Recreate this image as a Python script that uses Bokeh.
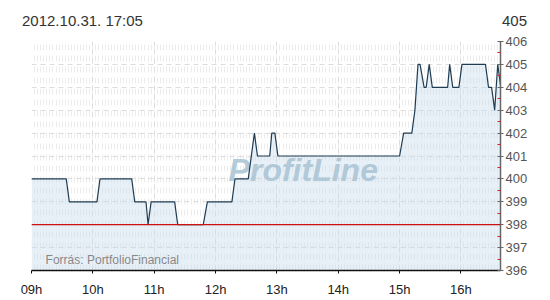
from bokeh.plotting import figure
from bokeh.models import Range1d, FixedTicker, Span, Label, Div
from bokeh.layouts import column
from bokeh.core.properties import value
from bokeh.embed import file_html
from bokeh.resources import INLINE
import numpy as np

# ---- data ----
times = ["09:00", "09:34", "09:37", "10:04", "10:07", "10:38", "10:41", "10:52",
         "10:54", "10:57", "11:20", "11:23", "11:48", "11:52", "12:16", "12:19",
         "12:32", "12:38", "12:41", "12:53", "12:55", "12:58", "13:01", "15:00",
         "15:04", "15:12", "15:15", "15:18", "15:20", "15:24", "15:26", "15:29",
         "15:32", "15:47", "15:49", "15:52", "15:58", "16:01", "16:24", "16:27",
         "16:30", "16:33", "16:36", "16:39"]
prices = [400, 400, 399, 399, 400, 400, 399, 399,
          398, 399, 399, 398, 398, 399, 399, 400,
          400, 402, 401, 401, 402, 402, 401, 401,
          402, 402, 403, 405, 405, 404, 404, 405,
          404, 404, 405, 404, 404, 405, 405, 404,
          404, 403, 405, 404]
prev_close = 398
hour_ticks = [9, 10, 11, 12, 13, 14, 15, 16]
hour_labels = ["09h", "10h", "11h", "12h", "13h", "14h", "15h", "16h"]
price_ticks = [396, 397, 398, 399, 400, 401, 402, 403, 404, 405, 406]
header_left = "2012.10.31. 17:05"
header_right = "405"
source_text = "Forrás: PortfolioFinancial"
watermark = "ProfitLine"

x_hours = [int(t[:2]) + int(t[3:]) / 60 for t in times]

FONT = "Liberation Sans"
Y_LO, Y_HI = price_ticks[0], price_ticks[-1]
X_LO, X_HI = 9, 16.645

header = Div(
    text=(
        "<div style='position:relative;width:550px;height:30px;"
        "font-family:\"Liberation Sans\",Arial,sans-serif;font-size:15px;"
        "line-height:17px;color:#333333;'>"
        f"<span style='position:absolute;left:22px;top:12px;'>{header_left}</span>"
        f"<span style='position:absolute;right:23px;top:12px;'>{header_right}</span>"
        "</div>"
    ),
    width=550, height=30, margin=0,
)

p = figure(width=550, height=270, output_backend="svg", toolbar_location=None,
           title=None, margin=0,
           x_range=Range1d(X_LO, X_HI), y_range=Range1d(Y_LO, Y_HI),
           y_axis_location="right",
           min_border_left=31, min_border_right=50, min_border_top=11,
           min_border_bottom=30)
p.outline_line_color = None
p.background_fill_color = "white"
p.border_fill_color = "white"

# tickers
xt = FixedTicker(ticks=hour_ticks, minor_ticks=list(np.arange(X_LO, X_HI, 0.05)))
yt = FixedTicker(ticks=price_ticks, minor_ticks=[v + 0.5 for v in price_ticks[:-1]])
p.xaxis.ticker = xt
p.yaxis.ticker = yt
p.xaxis.major_label_overrides = {h: l for h, l in zip(hour_ticks, hour_labels)}

# grids
p.xgrid.grid_line_color = "#dddddd"
p.xgrid.grid_line_dash = "5 4"
p.xgrid.minor_grid_line_color = "#ececec"
p.xgrid.minor_grid_line_dash = "6 5"
p.ygrid.grid_line_color = "#dddddd"
p.ygrid.grid_line_dash = "5 4"

# x axis
xa = p.xaxis[0]
xa.axis_line_color = "#111111"
xa.axis_line_width = 1.5
xa.major_tick_line_color = "#111111"
xa.major_tick_in = 0
xa.major_tick_out = 3
xa.minor_tick_line_color = None
xa.major_label_text_font = FONT
xa.major_label_text_font_size = "13px"
xa.major_label_text_color = "#222222"
xa.major_label_standoff = 7

# y axis (right)
ya = p.yaxis[0]
ya.axis_line_color = "#666666"
ya.axis_line_width = 1.5
ya.major_tick_line_color = "#666666"
ya.major_tick_in = 3
ya.major_tick_out = 3
ya.minor_tick_line_color = "#e02020"
ya.minor_tick_in = 3
ya.minor_tick_out = 0
ya.major_label_text_font = FONT
ya.major_label_text_font_size = "13px"
ya.major_label_text_color = "#555555"
ya.major_label_standoff = 2

# area + watermark + line
p.varea(x=x_hours, y1=Y_LO, y2=prices, fill_color="#c9dcec", fill_alpha=0.42)
p.text(x=[13.43], y=[400.37], text=[watermark], text_font=value(FONT),
       text_font_style="bold italic", text_font_size="32px",
       text_color="#a7c2d3", text_alpha=0.85, text_align="center",
       text_baseline="alphabetic")
p.add_layout(Span(location=prev_close, dimension="width",
                  line_color="#cc1111", line_width=1.2))
p.line(x_hours, prices, line_color="#1f3c52", line_width=1.2)

p.add_layout(Label(x=9.23, y=396.44, text=source_text, text_font=FONT,
                   text_font_size="12px", text_color="#888888",
                   text_baseline="alphabetic"))

layout = column(header, p, spacing=0, margin=0)
open("out.html", "w").write(file_html(layout, INLINE))
